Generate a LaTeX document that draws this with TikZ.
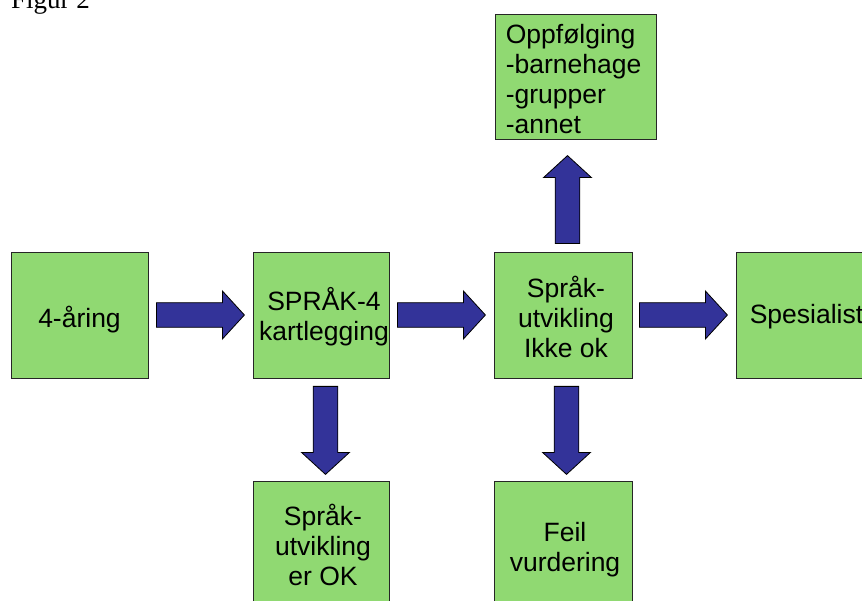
\documentclass[tikz,border=0pt]{standalone}
\usepackage{fontspec}
\setmainfont{Liberation Sans}
\newfontfamily\figserif{Liberation Serif}
\usetikzlibrary{calc}
\definecolor{boxgreen}{RGB}{144,217,114}
\definecolor{arrowblue}{RGB}{51,51,153}
\begin{document}
\begin{tikzpicture}[x=1pt,y=-1pt,
  box/.style={draw=black!85, line width=0.8pt, fill=boxgreen, rectangle,
    minimum width=137pt, minimum height=126pt, inner sep=0pt},
  lbl/.style={font=\fontsize{26.5}{30}\selectfont, align=center, inner sep=0pt},
  pics/blockarrow/.style={code={
    \draw[draw=black, line width=0.8pt, fill=arrowblue, line join=miter]
      (0,-12.3) -- (66,-12.3) -- (66,-24) -- (88,0) -- (66,24) -- (66,12.3) -- (0,12.3) -- cycle;}}]
\useasboundingbox (0,0) rectangle (862,601);

\node[font=\figserif\fontsize{27}{30}\selectfont, anchor=base west, inner sep=0pt] (fig) at (11,9) {Figur 2};

\node[box] (b1) at (79.5,315) {};
\node[box, minimum width=136pt] (b2) at (321,315) {};
\node[box, minimum width=138pt] (b3) at (563,315) {};
\node[box] (b4) at (804.5,315) {};
\node[box, minimum width=161pt, minimum height=125pt] (b5) at (575.5,76.5) {};
\node[box, minimum width=136pt] (b6) at (321,544) {};
\node[box, minimum width=138pt] (b7) at (563,544) {};

\node[lbl, anchor=base] (t1) at ($(b1.center)+(0,13)$) {4-åring};
\node[lbl, anchor=base] (t2) at ($(b2.center)+(3,26)$) {SPRÅK-4\\kartlegging};
\node[lbl, anchor=base] (t3) at ($(b3.center)+(3,43)$) {Språk-\\utvikling\\Ikke ok};
\node[lbl, anchor=base west] (t4) at ($(b4.west)+(14,9)$) {Spesialist};
\node[lbl, align=left, anchor=base west] (t5) at ($(b5.north west)+(11,120)$) {Oppfølging\\-barnehage\\-grupper\\-annet};
\node[lbl, anchor=base] (t6) at ($(b6.center)+(2,41)$) {Språk-\\utvikling\\er OK};
\node[lbl, anchor=base] (t7) at ($(b7.center)+(2,27)$) {Feil\\vurdering};

\pic (a1) at ($(b1.east)+(8,0)$) {blockarrow};
\pic (a2) at ($(b2.east)+(8,0)$) {blockarrow};
\pic (a3) at ($(b3.east)+(7,0)$) {blockarrow};
\pic[rotate=-90] (a4) at ($(b2.south)+(4.5,8)$) {blockarrow};
\pic[rotate=-90] (a5) at ($(b3.south)+(3.5,8)$) {blockarrow};
\pic[rotate=90] (a6) at ($(b3.north)+(4.5,-8)$) {blockarrow};
\end{tikzpicture}
\end{document}
